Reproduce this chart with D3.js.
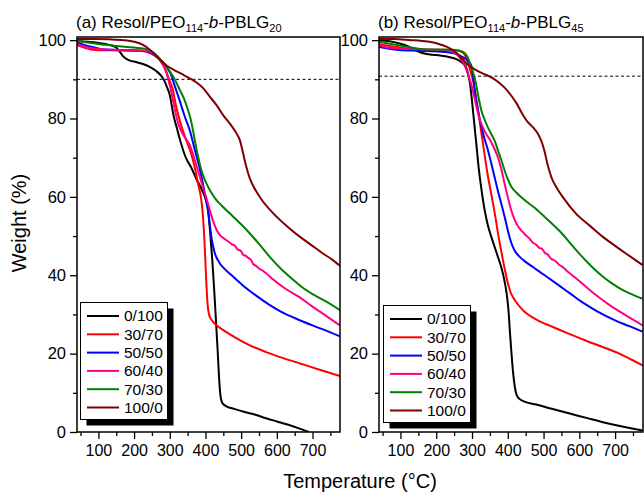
<!DOCTYPE html>
<html>
<head>
<meta charset="utf-8">
<script src="https://cdn.jsdelivr.net/npm/d3@7"></script>
<style>
  body { margin: 0; background: #fff; }
  svg { font-family: Arial, "Liberation Sans", sans-serif; }
</style>
</head>
<body>
<svg id="chart" width="644" height="493"></svg>
<script>
// legend labels (Resol/PEO-b-PBLG weight ratio) and colours
const labels = ["0/100", "30/70", "50/50", "60/40", "70/30", "100/0"];
const colors = ["#000000", "#ff0000", "#0000ff", "#ff0080", "#008000", "#800000"];

const xTicks = [100, 200, 300, 400, 500, 600, 700];
const xMinor = [50, 150, 250, 350, 450, 550, 650, 750];
const yTicks = [0, 20, 40, 60, 80, 100];
const yMinor = [10, 30, 50, 70, 90];

// panel (a) Resol/PEO114-b-PBLG20, [temperature C, weight %]
const a0_100 = [[40,99.8],[70,99.6],[100,99.3],[130,98.8],[150,98.1],[160,97],[170,95.8],[185,94.9],[205,94.4],[225,93.9],[245,93.1],[262,92.1],[275,91],[285,89.6],[293,87.8],[300,86],[310,81],[320,77.5],[332,73.5],[345,70],[360,67.5],[375,64.5],[390,61.8],[400,59.5],[408,56],[414,50],[419,44],[424,37],[429,29],[434,21],[438,14],[442,9.3],[448,7.3],[460,6.5],[480,5.9],[510,5.1],[540,4.4],[570,3.5],[600,2.7],[630,1.9],[660,1.0],[690,0]];
const a30_70 = [[40,98.7],[60,98.1],[90,97.5],[130,97.4],[180,97.3],[220,97.2],[245,96.7],[262,95.8],[276,94.4],[288,92.5],[298,90],[308,87.5],[318,83],[328,79.5],[340,76],[350,73.5],[360,71],[370,67.5],[380,63],[388,59.5],[393,55],[397,49],[400,43],[403,37],[406,32.5],[410,30],[418,28.5],[430,27.3],[450,26],[478,24.4],[520,22.3],[570,20.4],[620,18.8],[665,17.5],[720,15.9],[777,14.3]];
const a50_50 = [[40,99.4],[60,98.8],[80,98.3],[110,97.7],[150,97.5],[200,97.4],[240,97],[262,95.8],[278,94.6],[292,93],[302,91.5],[315,88],[328,84.5],[342,80.5],[356,77],[370,72],[385,66.8],[398,61],[406,57.5],[412,53],[418,49],[425,46],[435,43.8],[455,41.5],[478,39.6],[510,37],[545,34.6],[575,32.7],[610,30.8],[650,29.1],[700,27.2],[740,25.8],[777,24.4]];
const a60_40 = [[40,99],[60,98.3],[90,97.8],[150,97.5],[230,97.3],[255,96.5],[272,95],[285,93],[295,90.3],[305,86.5],[316,81.5],[325,78.3],[335,76.3],[345,74.8],[356,73.2],[366,70.6],[376,67.6],[386,64.6],[395,61.8],[403,59.6],[411,57],[420,54.2],[430,51.8],[440,50.3],[452,49.4],[464,48.6],[474,47.9],[482,47.6],[490,46.6],[498,46.3],[506,45.2],[514,44.9],[522,44.3],[528,43.9],[534,42.8],[542,42.4],[552,41.6],[560,41.2],[570,40.5],[590,38.9],[620,36.8],[660,34.6],[700,32],[740,29.5],[777,27.2]];
const a70_30 = [[40,99.8],[70,99.4],[100,99],[150,98.5],[200,98.1],[235,97.7],[255,96.8],[272,95.3],[290,93.3],[303,91.6],[315,89.8],[328,87.3],[340,85],[350,82.5],[358,80],[365,77],[372,73.5],[380,70],[388,67],[396,64.8],[405,63],[415,61.3],[428,59.5],[445,57.8],[468,55.8],[500,53],[525,50.6],[550,48],[580,44.7],[610,41.8],[640,39.3],[670,37],[700,35.2],[740,33.2],[777,31.1]];
const a100_0 = [[40,100.3],[80,100.3],[130,100.2],[170,100],[200,99.6],[225,98.8],[245,97.5],[260,96.2],[275,94.8],[290,93.6],[310,92.5],[335,91.3],[357,90.2],[375,89.2],[394,87.7],[412,85.6],[431,83.4],[450,80.8],[470,78.5],[487,76.2],[497,74.3],[505,71.3],[514,67.8],[524,64.8],[535,62.6],[555,59.6],[590,55.8],[630,52.4],[665,49.8],[700,47.5],[730,45.5],[755,44],[777,42.4]];

// panel (b) Resol/PEO114-b-PBLG45
const b0_100 = [[40,100],[70,99.7],[95,99.2],[125,98.3],[150,97.1],[170,96.5],[200,96.2],[230,95.8],[255,95.2],[272,94.3],[284,93],[290,91],[295,88.5],[300,84.5],[306,79],[312,73.6],[318,68],[324,63.5],[335,56.8],[345,52.5],[354,49.8],[363,47.3],[372,44.8],[380,42.6],[387,40.2],[393,37.5],[398,34.5],[402,31],[406,25.5],[410,20.5],[415,15],[420,11.3],[425,9.4],[432,8.5],[445,7.8],[480,7],[520,6],[573,4.7],[620,3.6],[666,2.5],[720,1.4],[777,0.4]];
const b30_70 = [[40,99],[70,98.5],[95,98.2],[130,97.6],[180,97.5],[235,97.5],[262,97.3],[275,96.8],[283,95.7],[289,94.3],[296,92],[303,89.6],[310,86],[317,82],[324,77.7],[331,73.4],[338,69],[345,65],[352,61.6],[359,58.2],[366,54.5],[373,50.5],[380,47],[387,43.6],[394,40.5],[401,37.7],[408,35.6],[416,34.2],[428,32.6],[440,31.3],[452,30.3],[480,28.7],[526,26.8],[570,25.1],[619,23.3],[665,21.7],[712,20],[745,18.5],[777,17]];
const b50_50 = [[40,98.3],[60,97.9],[95,97.5],[150,97.3],[225,97],[255,96.5],[275,95.6],[290,94.6],[298,93.5],[304,90],[310,85.5],[318,81.5],[326,78],[335,74.8],[345,71.8],[354,68.5],[363,65.1],[372,61.7],[382,58.2],[391,55],[400,51.5],[409,48.5],[419,46.3],[432,44.8],[447,43.6],[475,41.8],[503,40],[540,37.6],[575,35.3],[610,33],[650,30.8],[700,28.5],[740,27],[777,25.6]];
const b60_40 = [[40,98.7],[60,98.2],[95,97.9],[150,97.7],[225,97.5],[250,96.8],[265,95.6],[278,93.8],[290,91],[300,88],[310,84],[320,80.2],[330,77.8],[340,76],[350,74.6],[360,72.8],[370,70.7],[380,67.8],[390,63.8],[400,60],[410,56.5],[420,54],[430,52.3],[440,51.2],[452,50.1],[462,49.2],[470,48.3],[478,47.9],[488,47],[496,46.7],[504,45.7],[512,45.3],[520,44.3],[528,43.9],[536,43.4],[544,42.6],[552,42.2],[563,41.3],[590,39.3],[628,36.3],[660,34],[694,31.8],[735,29.5],[777,27.2]];
const b70_30 = [[40,99.6],[70,99.1],[95,98.7],[130,98.1],[160,97.7],[220,97.6],[255,97.5],[275,97],[287,95.8],[295,94],[302,92],[309,89.8],[317,86],[326,82.1],[336,79.5],[345,77.6],[354,76],[363,74.4],[372,72],[382,69.4],[391,66.8],[400,64.5],[410,62.6],[425,61],[447,59.2],[475,57.2],[503,54.9],[530,52.6],[554,50.4],[578,47.8],[600,45.5],[628,42.8],[656,40.4],[690,38],[722,36.2],[750,35],[777,34]];
const b100_0 = [[40,100.3],[80,100.3],[130,100],[160,99.8],[185,99.5],[207,99],[230,98.3],[253,97],[270,95.5],[285,94],[300,93],[318,92],[340,91.1],[360,90.2],[380,88.8],[395,87.5],[410,85.8],[425,83.8],[440,81.3],[455,79.2],[470,77.8],[485,76],[495,74],[503,71.5],[512,68],[522,65],[535,62.6],[555,59.8],[590,55.8],[630,52.6],[666,49.8],[700,47.5],[731,45.5],[755,44],[777,42.6]];

const svg = d3.select("#chart");

function drawPanel(p) {
  const x = d3.scaleLinear().domain(p.xDomain).range([p.left, p.right]);
  const y = d3.scaleLinear().domain([0, 100.8]).range([432, 37]);

  const g = svg.append("g");

  g.append("clipPath").attr("id", "clip-" + p.id)
   .append("rect")
   .attr("x", p.left).attr("y", 37)
   .attr("width", p.right - p.left).attr("height", 395);

  // 10 % weight-loss reference line
  g.append("line")
   .attr("x1", p.left).attr("x2", p.right)
   .attr("y1", y(p.dash)).attr("y2", y(p.dash))
   .attr("stroke", "#000").attr("stroke-width", 1)
   .attr("stroke-dasharray", "3,2.5");

  const line = d3.line()
                 .x(d => x(d[0]))
                 .y(d => y(d[1]))
                 .curve(d3.curveMonotoneX);

  g.append("g").attr("clip-path", "url(#clip-" + p.id + ")")
   .selectAll("path")
   .data(p.series)
   .enter().append("path")
   .attr("d", d => line(d))
   .attr("fill", "none")
   .attr("stroke", (d, i) => colors[i])
   .attr("stroke-width", 2)
   .attr("stroke-linejoin", "round");

  // frame
  g.append("rect")
   .attr("x", p.left).attr("y", 37)
   .attr("width", p.right - p.left).attr("height", 395)
   .attr("fill", "none").attr("stroke", "#000").attr("stroke-width", 1.5);

  const xAxis = g.append("g").attr("transform", "translate(0,432)")
                 .call(d3.axisBottom(x).tickValues(xTicks).tickSize(7).tickPadding(6));
  g.append("g").attr("transform", "translate(0,432)")
   .call(d3.axisBottom(x).tickValues(xMinor).tickSize(4).tickFormat(""));
  const yAxis = g.append("g").attr("transform", "translate(" + p.left + ",0)")
                 .call(d3.axisLeft(y).tickValues(yTicks).tickSize(7).tickPadding(4));
  g.append("g").attr("transform", "translate(" + p.left + ",0)")
   .call(d3.axisLeft(y).tickValues(yMinor).tickSize(4).tickFormat(""));

  g.selectAll(".domain").remove();
  g.selectAll(".tick line").attr("stroke", "#000").attr("stroke-width", 1.3);
  xAxis.selectAll("text").attr("font-size", 16).attr("font-family", null).attr("fill", "#000");
  yAxis.selectAll("text").attr("font-size", 16.5).attr("font-family", null).attr("fill", "#000");

  // title with subscripts
  const t = g.append("text").attr("x", p.left - 1).attr("y", 28).attr("font-size", 17);
  t.append("tspan").text("(" + p.letter + ") Resol/PEO");
  t.append("tspan").attr("font-size", 11).attr("dy", 4).text("114");
  t.append("tspan").attr("dy", -4).text("-");
  t.append("tspan").attr("font-style", "italic").text("b");
  t.append("tspan").text("-PBLG");
  t.append("tspan").attr("font-size", 11).attr("dy", 4).text(p.block);

  // legend with drop shadow
  const lg = g.append("g").attr("transform", "translate(" + p.legX + "," + p.legY + ")");
  lg.append("rect").attr("x", 6).attr("y", 6).attr("width", 87).attr("height", 117).attr("fill", "#000");
  lg.append("rect").attr("width", 87).attr("height", 117)
    .attr("fill", "#fff").attr("stroke", "#000").attr("stroke-width", 1);
  const row = lg.selectAll(".row").data(labels).enter().append("g")
                .attr("transform", (d, i) => "translate(0," + (13.5 + i * 18.3) + ")");
  row.append("line").attr("x1", 6.5).attr("x2", 38.5)
     .attr("stroke", (d, i) => colors[i]).attr("stroke-width", 2);
  row.append("text").attr("x", 43.5).attr("dy", "0.35em")
     .attr("font-size", 15.5).text(d => d);
}

drawPanel({id: "a", letter: "a", block: "20", left: 77, right: 340, xDomain: [40, 777],
           dash: 90, legX: 80.5, legY: 302.5,
           series: [a0_100, a30_70, a50_50, a60_40, a70_30, a100_0]});
drawPanel({id: "b", letter: "b", block: "45", left: 379, right: 643, xDomain: [40, 778],
           dash: 90.8, legX: 383.5, legY: 305.5,
           series: [b0_100, b30_70, b50_50, b60_40, b70_30, b100_0]});

// axis titles
svg.append("text")
   .attr("transform", "translate(26,223) rotate(-90)")
   .attr("text-anchor", "middle").attr("font-size", 20)
   .text("Weight (%)");
svg.append("text")
   .attr("x", 360).attr("y", 488)
   .attr("text-anchor", "middle").attr("font-size", 20)
   .text("Temperature (°C)");
</script>
</body>
</html>
